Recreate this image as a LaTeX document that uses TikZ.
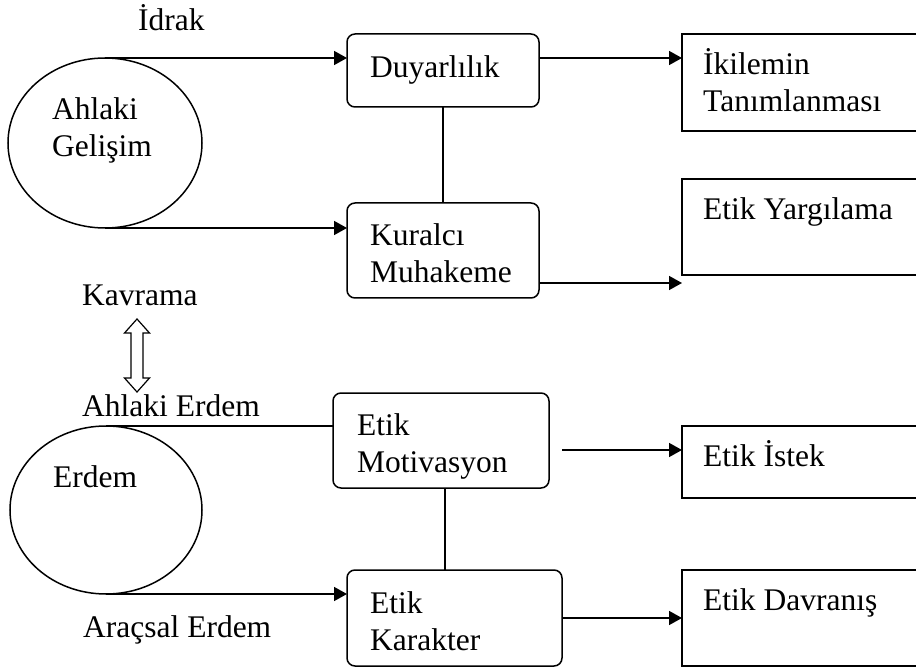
\documentclass[tikz,border=0pt]{standalone}
\usepackage{fontspec}
\setmainfont{Liberation Serif}
\usetikzlibrary{arrows.meta,shapes.geometric}

\tikzset{
    every node/.style={font=\fontsize{31.5}{37}\selectfont},
    yuvarlak/.style={draw, line width=1.5pt, rounded corners=8pt, outer sep=0pt,
        inner sep=0pt, anchor=north west},
    kutu/.style={draw, line width=1.5pt, outer sep=0pt, inner sep=0pt,
        anchor=north west, minimum width=250pt},
    halka/.style={ellipse, draw, line width=1.5pt, outer sep=0pt},
    etiket/.style={anchor=base west, inner sep=0pt, align=left},
    baglanti/.style={line width=1.5pt, -{Triangle[length=13pt,width=14pt]}},
    cizgi/.style={line width=1.5pt},
}

\begin{document}
\begin{tikzpicture}[x=1pt, y=-1pt]
    \useasboundingbox (0, 0) rectangle (916, 668);
    \clip (0, 0) rectangle (916, 668);

    % ust kisim
    \node[halka, minimum width=194pt, minimum height=170pt] (gel) at (105, 143) {};
    \node[etiket] (gelyazi) at (52, 157) {Ahlaki\\Gelişim};
    \node[etiket] (idrak) at (138, 31) {İdrak};

    \node[yuvarlak, minimum width=192pt, minimum height=73pt] (duy) at (347, 34) {};
    \node[yuvarlak, minimum width=192pt, minimum height=95pt] (kur) at (347, 203) {};
    \node[kutu, minimum height=97pt] (iki) at (682, 34) {};
    \node[kutu, minimum height=96pt] (yar) at (682, 179) {};
    \node[etiket] (duyyazi) at (370, 78) {Duyarlılık};
    \node[etiket] (kuryazi) at (370, 283) {Kuralcı\\Muhakeme};
    \node[etiket] (ikiyazi) at (703, 112) {İkilemin\\Tanımlanması};
    \node[etiket] (yaryazi) at (703, 220) {Etik Yargılama};

    \draw[baglanti] (gel.north) -- (gel.north -| duy.west);
    \draw[baglanti] (gel.south) -- (gel.south -| kur.west);
    \draw[cizgi] (duy) -- (kur);
    \draw[baglanti] (duy.east |- gel.north) -- (iki.west |- gel.north);
    \draw[baglanti] ([yshift=15pt]kur.south east) -- ([yshift=15pt]kur.south east -| yar.west);

    % cift yonlu ok
    \node[etiket] (kavrama) at (82, 306) {Kavrama};
    \draw[line width=1.2pt, shift={(137, 355.5)}]
        (0, -36.5) -- (12.5, -22.5) -- (6, -22.5) -- (6, 22.5) -- (12.5, 22.5)
        -- (0, 36.5) -- (-12.5, 22.5) -- (-6, 22.5) -- (-6, -22.5) -- (-12.5, -22.5) -- cycle;

    % alt kisim
    \node[etiket] (ahlerdem) at (82, 417) {Ahlaki Erdem};
    \node[halka, minimum width=192pt, minimum height=168pt] (erd) at (106, 510) {};
    \node[etiket] (erdyazi) at (53, 487) {Erdem};
    \node[etiket] (aracerdem) at (83, 637) {Araçsal Erdem};

    \node[yuvarlak, minimum width=216pt, minimum height=95pt] (mot) at (333, 393) {};
    \node[yuvarlak, minimum width=215pt, minimum height=96pt] (kar) at (347, 570) {};
    \node[kutu, minimum height=72pt] (ist) at (682, 426) {};
    \node[kutu, minimum height=96pt] (dav) at (682, 570) {};
    \node[etiket] (motyazi) at (357, 472) {Etik\\Motivasyon};
    \node[etiket] (karyazi) at (370, 650) {Etik\\Karakter};
    \node[etiket] (istyazi) at (703, 466) {Etik İstek};
    \node[etiket] (davyazi) at (703, 610) {Etik Davranış};

    \draw[cizgi] (erd.north) -- (erd.north -| mot.west);
    \draw[baglanti] (erd.south) -- (erd.south -| kar.west);
    \draw[cizgi] ([xshift=4pt]mot.south) -- ([xshift=4pt]mot.south |- kar.north);
    \draw[baglanti] ([xshift=13pt, yshift=-9.5pt]mot.east) -- ([yshift=-9.5pt]mot.east -| ist.west);
    \draw[baglanti] (kar.east) -- (kar.east -| dav.west);
\end{tikzpicture}
\end{document}
